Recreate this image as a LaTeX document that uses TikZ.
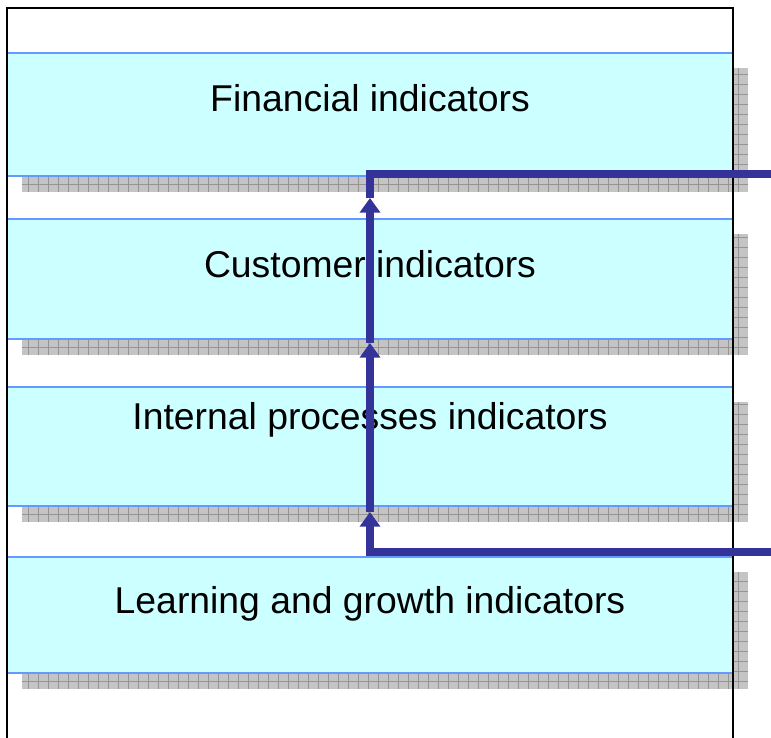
\documentclass[tikz,border=0pt]{standalone}
\usepackage{fontspec}
\setmainfont{Liberation Sans}
\usetikzlibrary{arrows.meta}
\definecolor{boxfill}{HTML}{CCFFFF}
\definecolor{boxline}{HTML}{6699FF}
\definecolor{shadowfill}{HTML}{C4C4C4}
\definecolor{shadowgrid}{HTML}{949494}
\definecolor{flowblue}{HTML}{333399}
\tikzset{
  box/.style={draw=boxline,fill=boxfill,line width=2pt,inner sep=0pt,minimum width=544.5pt},
  lbl/.style={inner sep=0pt,anchor=base,font=\fontsize{28}{34}\selectfont},
  gridline/.style={draw=shadowgrid,line width=0.7pt},
  flow/.style={draw=flowblue,line width=5.5pt,line join=miter},
  flowtip/.style={flow,-{Triangle[width=15pt,length=11pt]}}
}
\begin{document}
\begin{tikzpicture}[x=0.75pt,y=-0.75pt]
\useasboundingbox (0,0) rectangle (771,738);

\foreach \nm/\ytop/\ybot/\ybase/\txt in {fin/53/176/112/Financial indicators,
  cust/219/339/277/Customer indicators,
  proc/387/506/429/Internal processes indicators,
  learn/557/673/613/Learning and growth indicators}
{
\fill[shadowfill] (22,\ytop+15) rectangle (748,\ybot+16);
\begin{scope}
\clip (22,\ytop+15) rectangle (748,\ybot+16);
\foreach \gx in {28,38,...,738}
\draw[gridline] (\gx,\ytop+15) -- (\gx,\ybot+16);
\foreach \k in {0,...,13}
\draw[gridline] (22,\ybot+8-10*\k) -- (748,\ybot+8-10*\k);
\end{scope}
\node[box,minimum height={(\ybot-\ytop)*0.75pt}] (\nm) at (370,{(\ytop+\ybot)/2}) {};
\node[lbl] (\nm-t) at (370,\ybase) {\txt};
}

\draw[line width=1.5pt] (7,738) -- (7,8) -- (733,8) -- (733,738);

\coordinate (in) at (771,174);
\coordinate (top) at (370,174);
\coordinate (bot) at (370,552);
\coordinate (out) at (771,552);
\coordinate (a1) at (370,512);
\coordinate (a2) at (370,343);
\coordinate (a3) at (370,198);
\draw[flowtip] (out) -- (bot) -- (a1);
\draw[flowtip] (a1) -- (a2);
\draw[flowtip] (a2) -- (a3);
\draw[flow] (a3) -- (top) -- (in);
\end{tikzpicture}
\end{document}
